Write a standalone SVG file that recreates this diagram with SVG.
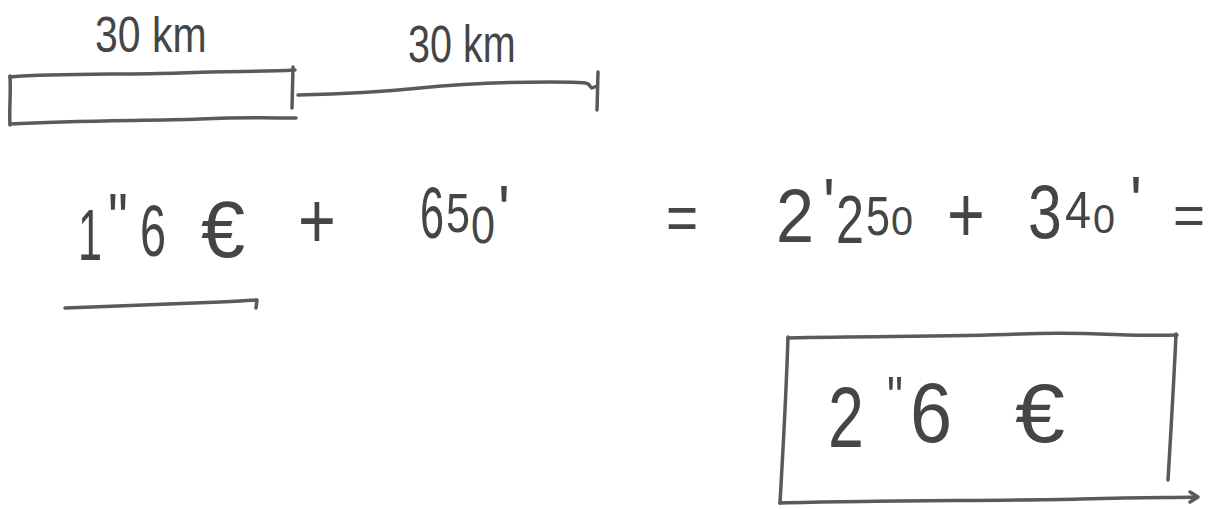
<svg xmlns="http://www.w3.org/2000/svg" width="1216" height="509" viewBox="0 0 1216 509">
<style>
.t{font-family:"Liberation Sans","DejaVu Sans",sans-serif;fill:#454545;}
.p{fill:none;stroke:#5a5a5a;stroke-width:3.5;stroke-linecap:round;stroke-linejoin:round;}
</style>
<rect width="1216" height="509" fill="#ffffff"/>
<g id="distance-bar">
<path class="p" d="M10,77 C60,73 120,75 180,73 S260,72 295,70"/>
<path class="p" d="M10,76 C11,95 9,110 10,125"/>
<path class="p" d="M10,124 C80,120 150,121 200,119 S270,118 296,118"/>
<path class="p" d="M293,67 L292,108"/>
<path class="p" d="M298,95 C340,94 380,92 420,88 S500,82 550,82 S585,84 592,88 L597,86"/>
<path class="p" d="M598,72 L597,110"/>
<text class="t" transform="translate(95,52) scale(0.82,1)" font-size="50">30 km</text>
<text class="t" transform="translate(408,62) scale(0.76,1)" font-size="52">30 km</text>
</g>
<g id="equation">
<text class="t" transform="translate(78,260) scale(0.6,1)" font-size="72">1</text>
<text class="t" transform="translate(108,244) scale(0.78,1)" font-size="72">"</text>
<text class="t" transform="translate(140,256) scale(0.65,1)" font-size="72">6</text>
<text class="t" transform="translate(201,257) scale(0.99,1)" font-size="80">€</text>
<text class="t" transform="translate(298,248) scale(0.81,1)" font-size="80">+</text>
<text class="t" transform="translate(420,238) scale(0.6,1)" font-size="72">6</text>
<text class="t" transform="translate(446,232) scale(0.77,1)" font-size="56">5</text>
<text class="t" transform="translate(471,243) scale(0.83,1)" font-size="52">0</text>
<text class="t" transform="translate(498,236) scale(0.87,1)" font-size="72">'</text>
<text class="t" transform="translate(666,240) scale(0.86,1)" font-size="64">=</text>
<text class="t" transform="translate(776,242) scale(0.9,1)" font-size="76">2</text>
<text class="t" transform="translate(823,229) scale(0.87,1)" font-size="72">'</text>
<text class="t" transform="translate(836,243) scale(0.74,1)" font-size="68">2</text>
<text class="t" transform="translate(866,235) scale(0.77,1)" font-size="56">5</text>
<text class="t" transform="translate(891,235) scale(0.99,1)" font-size="40">0</text>
<text class="t" transform="translate(947,242) scale(0.81,1)" font-size="80">+</text>
<text class="t" transform="translate(1028,238) scale(0.8,1)" font-size="76">3</text>
<text class="t" transform="translate(1065,228) scale(0.9,1)" font-size="52">4</text>
<text class="t" transform="translate(1093,233) scale(0.99,1)" font-size="40">0</text>
<text class="t" transform="translate(1130,227) scale(0.87,1)" font-size="72">'</text>
<text class="t" transform="translate(1173,234) scale(0.98,1)" font-size="56">=</text>
<path class="p" d="M65,308 C120,306 180,304 220,302 S250,300 257,300 L256,308"/>
</g>
<g id="result-box">
<path class="p" d="M788,338 C880,336 950,337 1020,334 S1130,337 1177,335"/>
<path class="p" d="M788,337 C786,400 783,450 780,503"/>
<path class="p" d="M1176,334 C1174,380 1171,430 1168,480"/>
<path class="p" d="M780,503 C880,500 1000,501 1080,499 S1170,498 1197,497"/>
<path class="p" d="M1190,492 L1198,497 L1190,502"/>
<text class="t" transform="translate(828,447) scale(0.75,1)" font-size="86">2</text>
<text class="t" transform="translate(887,418) scale(0.75,1)" font-size="60">"</text>
<text class="t" transform="translate(910,442) scale(0.88,1)" font-size="86">6</text>
<text class="t" transform="translate(1015,442) scale(1.07,1)" font-size="84">€</text>
</g>
</svg>
